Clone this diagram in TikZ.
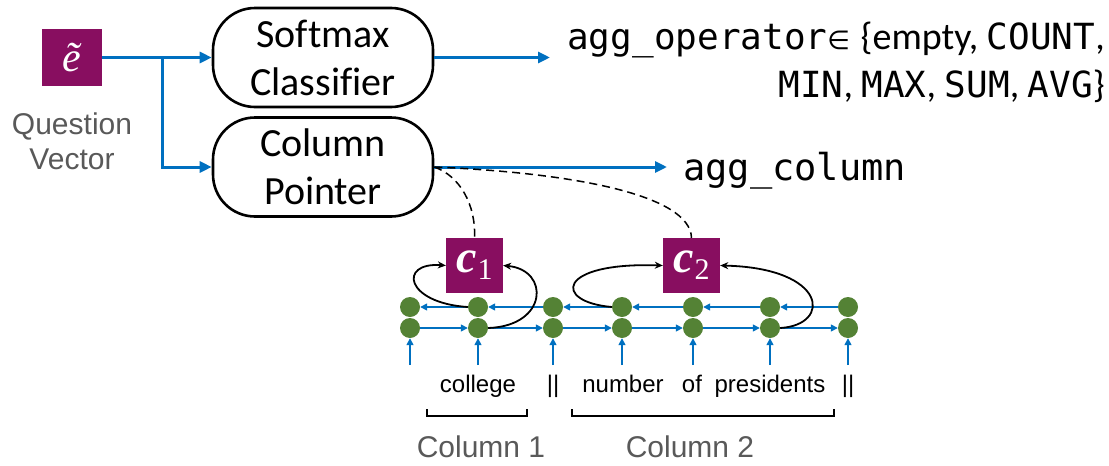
\documentclass[tikz,border=0pt]{standalone}
\usepackage{fontspec}
\setmainfont{Liberation Sans}
\newfontfamily\calib[Ligatures=CommonOff]{Carlito}
\newfontfamily\monof{DejaVu Sans Mono}
\newfontfamily\serifm{Liberation Serif}
\newfontfamily\djv{DejaVu Sans}
\usetikzlibrary{arrows.meta}
\definecolor{myblue}{RGB}{0,112,192}
\definecolor{mygreen}{RGB}{84,130,53}
\definecolor{mypurple}{RGB}{136,14,96}
\definecolor{mygray}{RGB}{89,89,89}
\newcommand{\cvec}[1]{{\serifm\fontsize{46}{46}\selectfont\bfseries\itshape c}\kern1pt\raisebox{-7pt}{\serifm\fontsize{30}{30}\selectfont #1}}
\tikzset{
  bigarrow/.style={draw=myblue, line width=3pt, -{Triangle[length=12pt,width=11pt]}},
  smallarrow/.style={draw=myblue, line width=1.5pt, -{Triangle[length=7pt,width=7pt]}},
  loopcurve/.style={draw=black, line width=1.8pt, -{Stealth[length=8pt,width=7pt]}},
  dashcurve/.style={draw=black, line width=1.5pt, dash pattern=on 8pt off 5pt},
  modbox/.style={draw=black, line width=2.6pt, rounded corners=42pt, minimum width=220pt, minimum height=99pt, inner sep=0pt, align=center, font=\calib\fontsize{40}{48}\selectfont},
  vecbox/.style={fill=mypurple, text=white, inner sep=0pt},
  dot/.style={circle, fill=mygreen, minimum size=20pt, inner sep=0pt},
  word/.style={anchor=base, inner sep=0pt, font=\fontsize{24}{24}\selectfont},
  graylabel/.style={text=mygray, align=center, inner sep=0pt, font=\fontsize{30}{35}\selectfont},
}
\begin{document}
\begin{tikzpicture}[x=1pt,y=-1pt]
\path[use as bounding box] (0,0) rectangle (1109,466);

% question vector
\node[vecbox, minimum width=60pt, minimum height=57pt] (e) at (72,57.5) {\serifm\fontsize{42}{42}\selectfont\itshape ẽ};
\node[graylabel] (qv) at (72,141) {Question\\Vector};

% modules
\node[modbox] (soft) at (323,57.5) {Softmax\\Classifier};
\node[modbox] (col) at (323,167) {Column\\Pointer};

\coordinate (br) at (162,57.5);
\draw[bigarrow] (e.east) -- (soft.west);
\draw[bigarrow] (br) |- (col.west);

% outputs
\coordinate (optip) at (550,57.5);
\coordinate (coltip) at (667,167);
\draw[bigarrow] (soft.east) -- (optip);
\draw[bigarrow] (col.east) -- (coltip);
\node[anchor=east, align=right, inner sep=0pt, font=\calib\fontsize{38}{48}\selectfont] (op) at (1105,62)
  {{\monof\fontsize{36}{48}\selectfont agg\_operator}{\djv\fontsize{26}{48}\selectfont ∈}\kern2pt{} \{empty, {\monof\fontsize{36}{48}\selectfont COUNT},\\
   {\monof\fontsize{36}{48}\selectfont MIN}, {\monof\fontsize{36}{48}\selectfont MAX}, {\monof\fontsize{36}{48}\selectfont SUM}, {\monof\fontsize{36}{48}\selectfont AVG}\}};
\node[anchor=base west, inner sep=0pt, font=\monof\fontsize{37}{37}\selectfont] (aggcol) at (683,180) {agg\_column};

% column vectors
\node[vecbox, minimum width=57pt, minimum height=55pt] (c1) at (474.5,265.5) {\cvec{1}};
\node[vecbox, minimum width=57pt, minimum height=55pt] (c2) at (691.5,265.5) {\cvec{2}};

\draw[dashcurve] (col.east) .. controls (460,176) and (476,205) .. (c1.north);
\draw[dashcurve] (col.east) .. controls (575,173) and (690,195) .. (c2.north);

% dots
\foreach \i/\x in {1/410,2/478,3/553,4/622,5/693,6/770,7/848}{
  \node[dot] (t\i) at (\x,307) {};
  \node[dot] (b\i) at (\x,328) {};
  \coordinate (u\i) at (\x,365);
  \draw[smallarrow] (u\i) -- (b\i.south);
}
\foreach \i/\j in {1/2,2/3,3/4,4/5,5/6,6/7}{
  \draw[smallarrow] (t\j.west) -- (t\i.east);
  \draw[smallarrow] (b\i.east) -- (b\j.west);
}

% loops into c1, c2
\draw[loopcurve] (t2.west) .. controls (405,303) and (398,262) .. (c1.west);
\draw[loopcurve] (b2.east) .. controls (548,326) and (550,270) .. (c1.east);
\draw[loopcurve] (t4.west) .. controls (553,302) and (556,262) .. (c2.west);
\draw[loopcurve] (b6.east) .. controls (832,325) and (828,268) .. (c2.east);

% words
\node[word] (w2) at (478,392) {college};
\node[word] (w3) at (553,392) {||};
\node[word] (w4) at (623,392) {number};
\node[word] (w5) at (692,392) {of};
\node[word] (w6) at (770,392) {presidents};
\node[word] (w7) at (848,392) {||};

% brackets
\draw[line width=1.6pt] (427,409) -- (427,416) -- (527,416) -- (527,409);
\draw[line width=1.6pt] (572,409) -- (572,416) -- (834,416) -- (834,409);

\node[graylabel, anchor=base] (col1) at (481,457) {Column 1};
\node[graylabel, anchor=base] (col2) at (690,457) {Column 2};
\end{tikzpicture}
\end{document}
